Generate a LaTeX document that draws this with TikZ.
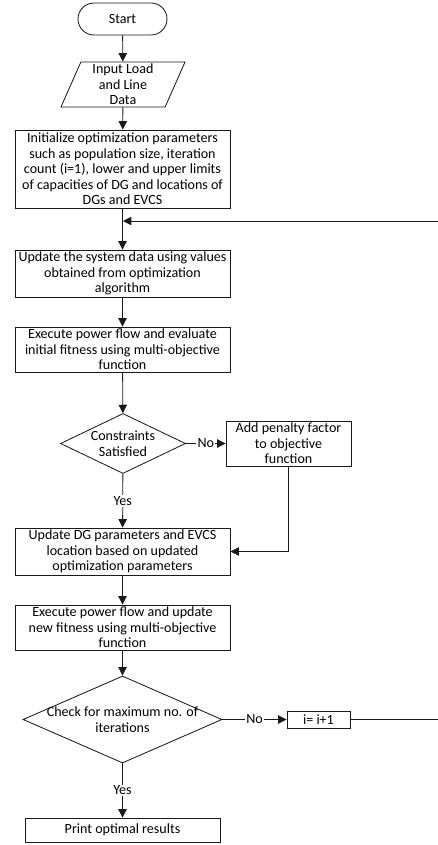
\documentclass[tikz,border=0pt]{standalone}
\usepackage{fontspec}
\setmainfont{Carlito}
\usepackage{xcolor}
\usetikzlibrary{shapes.geometric,arrows.meta}
\definecolor{FCLine}{HTML}{1A1A1A}

\begin{document}
\begin{tikzpicture}[x=0.025cm,y=-0.025cm,
  font=\fontsize{10}{11}\selectfont,
  every node/.style={text=black},
  flowbox/.style={draw=FCLine,line width=0.6pt,align=center,inner sep=1pt,minimum width=5.375cm},
  termbox/.style={draw=FCLine,line width=0.6pt,rounded corners=0.4cm,minimum width=2.225cm,minimum height=0.8cm},
  iobox/.style={draw=FCLine,line width=0.6pt,trapezium,trapezium left angle=64,trapezium right angle=116,
    trapezium stretches body,minimum width=3.1cm,minimum height=1.125cm,align=center,inner sep=0pt},
  decbox/.style={draw=FCLine,line width=0.6pt,diamond,inner sep=0pt},
  flowline/.style={draw=FCLine,line width=0.6pt},
  flowarrow/.style={flowline,-{Triangle[length=0.21cm,width=0.21cm]}},
  linetag/.style={fill=white,inner sep=1pt}]
\path[use as bounding box] (0,0) rectangle (438,845);
\node[termbox] (start) at (122.5,19) {Start};
\node[iobox] (inp) at (123,84.5) {Input Load\\and Line\\Data};
\node[flowbox,minimum height=1.95cm] (init) at (122.5,169) {Initialize optimization parameters\\such as population size, iteration\\count (i=1), lower and upper limits\\of capacities of DG and locations of\\DGs and EVCS};
\node[flowbox,minimum height=1.175cm] (upd) at (122.5,273.5) {Update the system data using values\\obtained from optimization\\algorithm};
\node[flowbox,minimum height=1.125cm] (exe) at (122.5,349.5) {Execute power flow and evaluate\\initial fitness using multi-objective\\function};
\node[decbox,minimum width=3.125cm,minimum height=1.5cm,label={[align=center]center:Constraints\\Satisfied}] (con) at (123,443.5) {};
\node[flowbox,minimum width=3.125cm,minimum height=1.125cm] (pen) at (288.5,443.5) {Add penalty factor\\to objective\\function};
\node[flowbox,minimum height=1.175cm] (upg) at (122.5,551.5) {Update DG parameters and EVCS\\location based on updated\\optimization parameters};
\node[flowbox,minimum height=1.125cm] (ex2) at (122.5,627.5) {Execute power flow and update\\new fitness using multi-objective\\function};
\node[decbox,minimum width=4.975cm,minimum height=2.175cm,label={[align=center]center:Check for maximum no. of\\iterations}] (chk) at (122.5,719.5) {};
\node[flowbox,minimum width=1.575cm,minimum height=0.425cm] (inc) at (318.5,719.5) {i= i+1};
\node[flowbox,minimum width=4.875cm,minimum height=0.6cm] (prt) at (122.5,830) {Print optimal results};
\coordinate (merge) at (123,221);
\coordinate (rtop) at (442,221);
\coordinate (rbot) at (442,719.5);
\draw[flowarrow] (start) -- (inp);
\draw[flowarrow] (inp) -- (init);
\draw[flowarrow] (init) -- (upd);
\draw[flowarrow] (upd) -- (exe);
\draw[flowarrow] (exe) -- (con);
\draw[flowarrow] (con) -- node[linetag] {No} (pen);
\draw[flowarrow] (con) -- node[linetag] {Yes} (upg);
\draw[flowarrow] (pen) |- (upg);
\draw[flowarrow] (upg) -- (ex2);
\draw[flowarrow] (ex2) -- (chk);
\draw[flowarrow] (chk) -- node[linetag] {No} (inc);
\draw[flowarrow] (chk) -- node[linetag] {Yes} (prt);
\draw[flowarrow] (inc) -- (rbot) -- (rtop) -- (merge);
\end{tikzpicture}
\end{document}
